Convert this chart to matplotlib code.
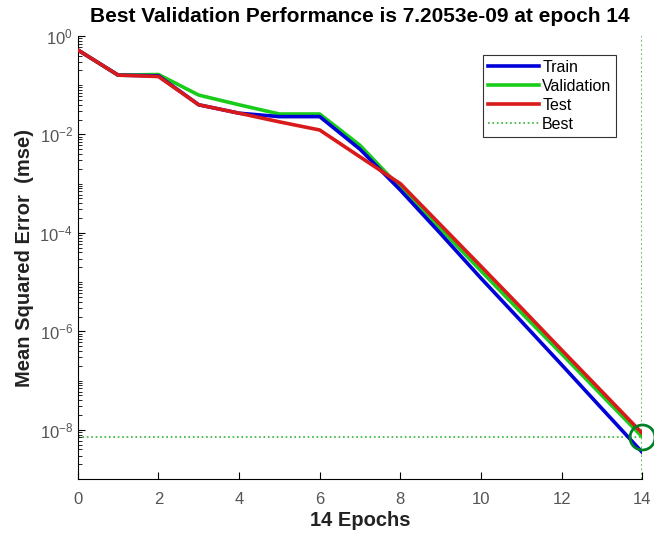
import numpy as np
import matplotlib.pyplot as plt
from matplotlib.ticker import FixedLocator, LogFormatterSciNotation, NullFormatter

plt.rcParams['font.family'] = ['Liberation Sans', 'DejaVu Sans']
plt.rcParams['mathtext.fontset'] = 'custom'
plt.rcParams['mathtext.rm'] = 'Liberation Sans'
plt.rcParams['mathtext.it'] = 'Liberation Sans:italic'

epochs = np.arange(15)
train = [0.52, 0.16, 0.155, 0.040, 0.027, 0.023, 0.023, 5.0e-3, 7.4e-4,
         9.6e-5, 1.2e-5, 1.6e-6, 2.1e-7, 2.7e-8, 3.5e-9]
valid = [0.52, 0.16, 0.165, 0.063, 0.040, 0.026, 0.026, 6.0e-3, 8.3e-4,
         1.2e-4, 1.7e-5, 2.4e-6, 3.5e-7, 5.0e-8, 7.2053e-9]
test = [0.52, 0.16, 0.150, 0.040, 0.027, 0.018, 0.0123, 3.5e-3, 1.0e-3,
        1.45e-4, 2.1e-5, 3.0e-6, 4.2e-7, 6.0e-8, 8.5e-9]
best_epoch = 14
best_perf = 7.2053e-09

fig = plt.figure(figsize=(6.54, 5.45), dpi=100)
ax = fig.add_axes([0.119, 0.121, 0.863, 0.813])

ax.plot(epochs, train, color=(0.0, 0.0, 0.85), lw=2.6, label='Train', zorder=3)
ax.plot(epochs, valid, color=(0.1, 0.8, 0.1), lw=2.6, label='Validation', zorder=2)
ax.plot(epochs, test, color=(0.85, 0.1, 0.1), lw=2.6, label='Test', zorder=4)
ax.plot([0, best_epoch], [best_perf, best_perf], ':', color=(0.2, 0.7, 0.2), lw=1.2,
        label='Best', zorder=1)
ax.axvline(best_epoch, ls=':', color=(0.2, 0.7, 0.2), lw=1.2, zorder=1)
ax.plot([best_epoch], [best_perf], 'o', ms=18, mfc='none', mec=(0.0, 0.5, 0.15),
        mew=2, zorder=5, clip_on=False)

ax.set_yscale('log')
ax.set_xlim(0, 14)
ax.set_ylim(1e-9, 1)
ax.set_xticks(np.arange(0, 15, 2))
ax.yaxis.set_major_locator(FixedLocator([1e0, 1e-2, 1e-4, 1e-6, 1e-8]))
ax.yaxis.set_major_formatter(LogFormatterSciNotation())
minor = [m * 10.0 ** k for k in range(-9, 0) for m in range(1, 10)
         if not (m == 1 and k % 2 == 0)]
ax.yaxis.set_minor_locator(FixedLocator(minor))
ax.yaxis.set_minor_formatter(NullFormatter())

ax.tick_params(direction='in', labelsize=12, labelcolor='#555555', length=5)
ax.tick_params(which='minor', direction='in', length=3)
ax.tick_params(axis='x', pad=9)
ax.spines['top'].set_visible(False)
ax.spines['right'].set_visible(False)

ax.set_title('Best Validation Performance is 7.2053e-09 at epoch 14',
             fontsize=15, fontweight='bold', pad=10)
ax.set_xlabel('14 Epochs', fontsize=14.5, fontweight='bold', color='#222222',
              labelpad=3)
ax.set_ylabel('Mean Squared Error  (mse)', fontsize=14.5, fontweight='bold',
              color='#222222', labelpad=4)

leg = ax.legend(loc='upper right', bbox_to_anchor=(0.968, 0.975), fontsize=11.5,
                fancybox=False, edgecolor='#333333', handlelength=3.2,
                handletextpad=0.2, borderpad=0.3, labelspacing=0.25, framealpha=1)
leg.get_frame().set_linewidth(0.8)

fig.savefig('out.png', dpi=100)
